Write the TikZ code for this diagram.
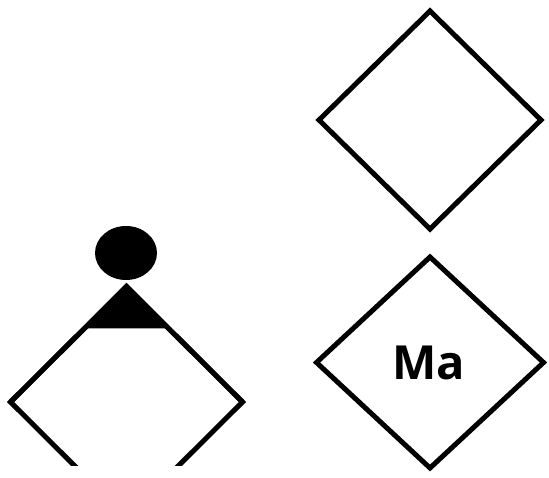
\documentclass[tikz,border=0pt]{standalone}
\usepackage{fontspec}
\setmainfont{Open Sans}
\usetikzlibrary{shapes.geometric,calc}
\begin{document}
\begin{tikzpicture}[x=1pt,y=-1pt,
  gate/.style={shape=diamond,draw=black,line width=5pt,line join=miter,
    inner sep=0pt,outer sep=0pt,fill=white},
  blob/.style={shape=ellipse,fill=black,inner sep=0pt,outer sep=0pt},
  tag/.style={font=\bfseries\fontsize{47}{47}\selectfont,inner sep=0pt}]
\useasboundingbox (0,0) rectangle (549,478);

% plain diamond, top right
\node[gate,minimum width=222pt,minimum height=218pt] (plain) at (430,120) {};

% labelled diamond, bottom right
\node[gate,minimum width=227pt,minimum height=211pt] (labelled) at (430,362.5) {};
\node[tag] (label) at ([xshift=-1pt]labelled.center) {Ma};

% diamond with a black cap and a dot above, cut off at the bottom
\begin{scope}
  \clip (0,0) rectangle (549,465);
  \node[gate,minimum width=232pt,minimum height=231pt] (capped) at (126.5,402) {};
  \fill[black] (capped.north)
    -- ($(capped.north)!0.362!(capped.west)$)
    -- ($(capped.north)!0.362!(capped.east)$) -- cycle;
  \draw[line width=5pt,line join=miter] (capped.west) -- (capped.north) -- (capped.east);
\end{scope}
\node[blob,minimum width=62pt,minimum height=54pt] (dot) at (126,253) {};
\end{tikzpicture}
\end{document}
